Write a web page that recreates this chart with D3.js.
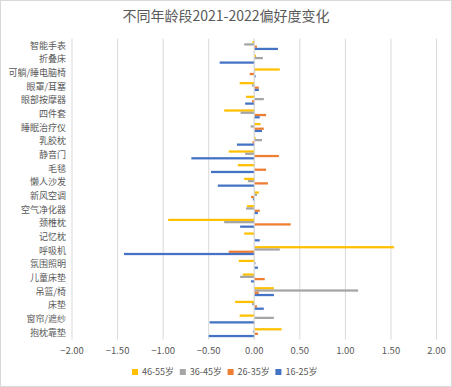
<!DOCTYPE html>
<html>
<head>
<meta charset="utf-8">
<script src="https://cdn.jsdelivr.net/npm/d3@7"></script>
<style>
  body { margin: 0; background: #fff; }
  text { font-family: "Noto Sans CJK SC", "Noto Sans", sans-serif; fill: #595959; }
</style>
</head>
<body>
<div id="chart"></div>
<script>
// categories, top to bottom
const categories = ["智能手表", "折叠床", "可躺/睡电脑椅", "眼罩/耳塞", "眼部按摩器", "四件套",
    "睡眠治疗仪", "乳胶枕", "静音门", "毛毯", "懒人沙发", "新风空调", "空气净化器", "颈椎枕",
    "记忆枕", "呼吸机", "氛围照明", "儿童床垫", "吊篮/椅", "床垫", "窗帘/遮纱", "抱枕靠垫"];

const seriesNames = ["46-55岁", "36-45岁", "26-35岁", "16-25岁"];
const seriesColors = ["#FFC000", "#A5A5A5", "#ED7D31", "#4472C4"];

const age46_55 = [-0.02, 0.02, 0.28, -0.16, -0.09, -0.33, 0.07, 0.015, -0.28, -0.18, -0.11, 0.05,
    -0.08, -0.945, -0.11, 1.535, -0.17, -0.125, 0.215, -0.21, -0.16, 0.30];
const age36_45 = [-0.11, 0.095, 0.01, -0.025, 0.105, -0.15, -0.04, 0.085, -0.10, 0, -0.07, 0.03,
    -0.09, -0.33, 0, 0.28, 0.015, -0.155, 1.14, -0.025, 0.215, -0.015];
const age26_35 = [0.03, 0, -0.05, 0.05, -0.025, 0.13, 0.105, -0.02, 0.27, 0.13, 0.15, -0.035,
    0.06, 0.40, 0, -0.28, 0, 0.115, 0.05, 0.03, 0, 0.04];
const age16_25 = [0.26, -0.38, 0.015, 0.05, -0.10, 0.06, 0.085, -0.19, -0.69, -0.475, -0.40, -0.015,
    0.04, -0.155, 0.06, -1.43, 0.04, -0.035, 0.215, 0.105, -0.49, -0.50];

const xTicks = [-2, -1.5, -1, -0.5, 0, 0.5, 1, 1.5, 2];

const seriesValues = [age46_55, age36_45, age26_35, age16_25];

const W = 452, H = 387;
const margin = {top: 38.7, right: 16, bottom: 47.5, left: 72};

const svg = d3.select("#chart").append("svg")
    .attr("width", W)
    .attr("height", H);

svg.append("rect")
    .attr("x", 0.5).attr("y", 0.5)
    .attr("width", W - 1).attr("height", H - 1)
    .attr("fill", "#fff")
    .attr("stroke", "#d9d9d9");

// title
svg.append("text")
    .attr("x", W / 2 + 0)
    .attr("y", 21)
    .attr("text-anchor", "middle")
    .style("font-size", "14px")
    .text("不同年龄段2021-2022偏好度变化");

const x = d3.scaleLinear()
    .domain([-2, 2])
    .range([margin.left, 436.5]);

const y = d3.scaleBand()
    .domain(categories)
    .range([margin.top, H - margin.bottom])
    .paddingInner(0.34)
    .paddingOuter(0.17);

const ySub = d3.scaleBand()
    .domain(seriesNames)
    .range([0, y.bandwidth()]);

// gridlines
svg.append("g")
    .selectAll("line")
    .data(xTicks)
    .join("line")
    .attr("x1", d => x(d)).attr("x2", d => x(d))
    .attr("y1", margin.top).attr("y2", H - margin.bottom)
    .attr("stroke", "#d9d9d9")
    .attr("stroke-width", 1);

// bars
seriesNames.forEach((name, si) => {
    svg.append("g")
        .attr("fill", seriesColors[si])
        .selectAll("rect")
        .data(categories.map((c, i) => ({c, v: seriesValues[si][i]})))
        .join("rect")
        .attr("x", d => x(Math.min(0, d.v)))
        .attr("width", d => Math.abs(x(d.v) - x(0)))
        .attr("y", d => y(d.c) + ySub(name))
        .attr("height", ySub.bandwidth());
});

// zero axis line
svg.append("line")
    .attr("x1", x(0)).attr("x2", x(0))
    .attr("y1", margin.top).attr("y2", H - margin.bottom)
    .attr("stroke", "#d9d9d9");

// category labels
svg.append("g")
    .selectAll("text")
    .data(categories)
    .join("text")
    .attr("x", 66)
    .attr("y", d => y(d) + y.bandwidth() / 2)
    .attr("dy", "0.35em")
    .attr("text-anchor", "end")
    .style("font-size", "9px")
    .text(d => d);

// x tick labels
svg.append("g")
    .selectAll("text")
    .data(xTicks)
    .join("text")
    .attr("x", d => x(d))
    .attr("y", 351)
    .attr("dy", "0.35em")
    .attr("text-anchor", "middle")
    .style("font-size", "9.5px")
    .text(d => d3.format(".2f")(d));

// legend
const legend = svg.append("g")
    .selectAll("g")
    .data(seriesNames)
    .join("g")
    .attr("transform", (d, i) => "translate(" + (132 + i * 47.8) + ",372)");

legend.append("rect")
    .attr("x", 0).attr("y", -3)
    .attr("width", 6).attr("height", 6)
    .attr("fill", (d, i) => seriesColors[i]);

legend.append("text")
    .attr("x", 10)
    .attr("y", 0)
    .attr("dy", "0.35em")
    .style("font-size", "9px")
    .text(d => d);
</script>
</body>
</html>
